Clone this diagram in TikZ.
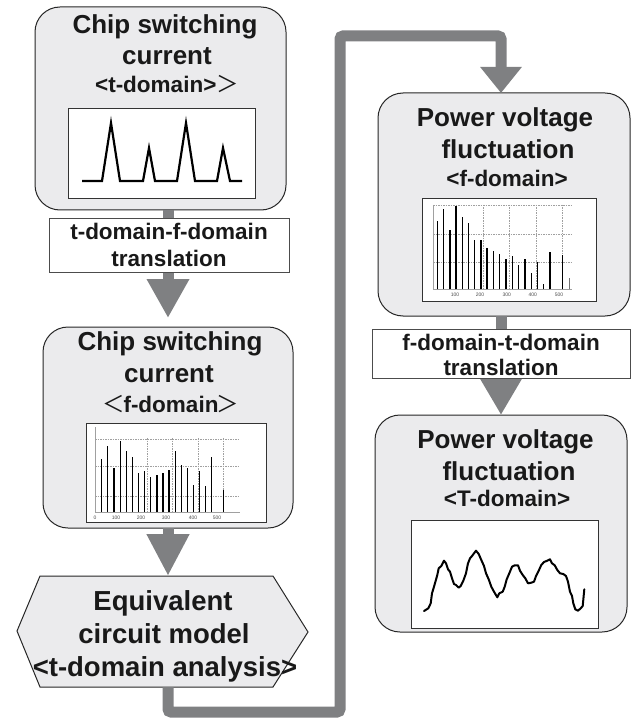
\documentclass[tikz,border=0pt]{standalone}
\usepackage{fontspec}
\setmainfont{Liberation Sans}
\newfontfamily\cjkfont{Noto Sans CJK JP}
\usetikzlibrary{arrows.meta}

\definecolor{boxfill}{HTML}{EBEBED}
\definecolor{flowgray}{HTML}{7F8082}
\definecolor{gridgray}{HTML}{A0A0A0}

\tikzset{
  panel/.style={draw=black!85, line width=1pt, fill=boxfill, rounded corners=25pt, inner sep=0pt, outer sep=0pt},
  note/.style={draw=black!70, line width=1pt, fill=white, inner sep=0pt, outer sep=0pt},
  plotframe/.style={draw=black!80, line width=1pt, fill=white, inner sep=0pt, outer sep=0pt},
  flow/.style={draw=flowgray, line width=11pt},
  headlen/.style={-{Triangle[width=40pt,length=#1]}},
  titletext/.style={font=\fontsize{26}{30}\selectfont\bfseries, anchor=base, inner sep=0pt, text=black!90},
  tagtext/.style={font=\fontsize{22.5}{26}\selectfont\bfseries, anchor=base, inner sep=0pt, text=black!90},
  notetext/.style={font=\fontsize{22.5}{26}\selectfont\bfseries, anchor=base, inner sep=0pt, text=black!90},
  hextext/.style={font=\fontsize{27.5}{32}\selectfont\bfseries, anchor=base, inner sep=0pt, text=black!90},
  grid line/.style={draw=gridgray, line width=0.4pt, dash pattern=on 1.5pt off 1pt},
  axis line/.style={draw=gridgray, line width=0.5pt},
  bar/.style={draw=black, line width=1.4pt},
  ticklabel/.style={font=\fontsize{5}{6}\selectfont, text=black!70, inner sep=0pt},
  trace/.style={draw=black, line width=2.2pt, line join=round, line cap=round},
}

% thin full-width angle brackets
\newcommand\wlt{{\cjkfont\mdseries ＜}}
\newcommand\wgt{{\cjkfont\mdseries ＞}}

\begin{document}
\begin{tikzpicture}[x=1pt, y=-1pt]
\useasboundingbox (0,0) rectangle (632,719);

% column axes of the flow
\coordinate (colL) at (168,0);
\coordinate (colR) at (501,0);

% ---------- boxes ----------
\node[panel, minimum width=251pt, minimum height=203pt] (b1) at (160.5,108.5) {};
\node[note,  minimum width=240pt, minimum height=53pt]  (l1) at (169,245.5) {};
\node[panel, minimum width=250pt, minimum height=201pt] (b2) at (168,427.5) {};
\node[panel, minimum width=252pt, minimum height=223pt] (b3) at (504,204.5) {};
\node[note,  minimum width=258pt, minimum height=49pt]  (l2) at (501,353.5) {};
\node[panel, minimum width=252pt, minimum height=217pt] (b4) at (501,523.5) {};

% hexagon: equivalent circuit model
\draw[fill=boxfill, draw=black!85, line width=1pt]
  (40,576) -- (273,576) -- (308,632) -- (273,687) -- (40,687) -- (17,631) -- cycle;
\coordinate (eqtop) at (168,576);
\coordinate (eqbot) at (168,687);

% ---------- connectors ----------
\draw[flow] (b1.south -| colL) -- (l1.north -| colL);
\draw[flow, headlen=39pt, shorten >=9pt] (l1.south -| colL) -- (b2.north -| colL);
\draw[flow, headlen=42pt] (b2.south -| colL) -- (eqtop);
\draw[flow, headlen=26pt, rounded corners=3pt]
  (eqbot) -- (168,712) -- (340,712) -- (340,36) -- (501,36) -- (b3.north -| colR);
\draw[flow] (b3.south -| colR) -- (l2.north -| colR);
\draw[flow, headlen=37pt] (l2.south -| colR) -- (b4.north -| colR);

% redraw note boxes above the shafts
\node[note, minimum width=240pt, minimum height=53pt] (l1f) at (l1) {};
\node[note, minimum width=258pt, minimum height=49pt] (l2f) at (l2) {};

% ---------- texts ----------
\node[titletext] (b1a) at (165,34) {Chip switching};
\node[titletext] (b1b) at (167,65) {current};
\node[tagtext]   (b1c) at (167,93) {<t-domain>\wgt};

\node[notetext] (l1a) at (169,240) {t-domain-f-domain};
\node[notetext] (l1b) at (169,266.5) {translation};

\node[titletext] (b2a) at (170,350) {Chip switching};
\node[titletext] (b2b) at (169,382.5) {current};
\node[tagtext]   (b2c) at (171,412) {\wlt\kern-1.5pt f-domain\kern-1.5pt\wgt};

\node[hextext] (eqa) at (163,610) {Equivalent};
\node[hextext] (eqb) at (164,643.5) {circuit model};
\node[hextext] (eqc) at (165,676.5) {<t-domain analysis>};

\node[titletext] (b3a) at (505,126.5) {Power voltage};
\node[titletext] (b3b) at (508,159) {fluctuation};
\node[tagtext]   (b3c) at (507,187) {<f-domain>};

\node[notetext] (l2a) at (501,350) {f-domain-t-domain};
\node[notetext] (l2b) at (501,375) {translation};

\node[titletext] (b4a) at (505.5,448.5) {Power voltage};
\node[titletext] (b4b) at (509,480) {fluctuation};
\node[tagtext]   (b4c) at (507,506) {<T-domain>};

% ---------- plot 1: switching current spikes ----------
\node[plotframe, minimum width=187pt, minimum height=90pt] (p1) at (161.5,154) {};
\draw[trace, line join=miter, line cap=butt]
  (82,181) -- (102,181) -- (111,123) -- (120,181) -- (143,181) -- (149,148) -- (155,181)
  -- (177,181) -- (186,123) -- (195,181) -- (217,181) -- (223,148) -- (230,181) -- (242,181);

% ---------- plot 2: current spectrum ----------
\node[plotframe, minimum width=180pt, minimum height=99pt] (p2) at (176,472.5) {};
\foreach \gx in {147,172,198,223} \draw[grid line] (\gx,438) -- (\gx,512);
\foreach \gy in {439,466,496} \draw[grid line] (95,\gy) -- (240,\gy);
\draw[axis line] (95,427) -- (95,512) -- (240,512);
\foreach \bx/\by in {101.7/459,107.7/446,114/468,120.3/441,126.3/451,132.7/457,
  138.7/473,144.7/471,150.7/477,157/475,163/473,169/470,175.3/451,181.3/465,
  187.3/468,193.3/485,199.3/471,205.7/486,211.7/457,223.7/490}
  \draw[bar] (\bx,512) -- (\bx,\by);
\foreach \lx/\lt [count=\i] in {95/0,116/100,141/200,166/300,193/400,217/500}
  \node[ticklabel] (tka\i) at (\lx,517.5) {\lt};

% ---------- plot 3: voltage spectrum ----------
\node[plotframe, minimum width=174pt, minimum height=102pt] (p3) at (509,250) {};
\foreach \gx in {483.3,509.3,535.7,561.7} \draw[grid line] (\gx,205) -- (\gx,289.3);
\foreach \gy in {205.7,234,261.7} \draw[grid line] (433,\gy) -- (572,\gy);
\draw[axis line] (433,205) -- (433,289.3) -- (572,289.3);
\foreach \bx/\by in {437.3/220.7,443.3/209,450/230,456/205.7,462.3/216.7,468.3/223.3,
  474.7/240,481/240,487/248.3,493.3/250.7,499.7/254,506/259.3,512.3/256.3,518.7/265,
  525/259.3,531.3/272.7,537.3/261.7,543.7/284.3,550/251.7,562.7/255}
  \draw[bar] (\bx,289.3) -- (\bx,\by);
\draw[bar, draw=black!55, line width=1pt] (569,289.3) -- (569,277.7);
\foreach \lx/\lt [count=\i] in {455/100,480/200,506.7/300,532.7/400,559/500}
  \node[ticklabel] (tkb\i) at (\lx,295) {\lt};

% ---------- plot 4: voltage waveform ----------
\node[plotframe, minimum width=187pt, minimum height=108pt] (p4) at (504.5,574) {};
\draw[trace, line width=2pt]
  (424,611) -- (428.3,608.3) -- (430.7,603.3) -- (432,593.3) -- (434,586.7) -- (437.3,575)
  -- (438.7,568.3) -- (441.3,566) -- (444,560.7) -- (446,563.3) -- (448,569.3) -- (450,571.7)
  -- (452,578.3) -- (454,584) -- (456,585) -- (458.7,587.7) -- (460.7,586) -- (463.3,580.7)
  -- (466,573.3) -- (468,563.3) -- (470,558.3) -- (472,556) -- (474,553.3) -- (476,550.7)
  -- (478.7,554) -- (481.3,560) -- (484,566) -- (486,573.3) -- (488.7,579.3) -- (491.3,586.7)
  -- (494,591.7) -- (497.3,597.3) -- (499.3,593.3) -- (502.7,591.7) -- (504.7,586.7)
  -- (506.7,579.3) -- (509.3,573.3) -- (512,566.7) -- (514.7,565.3) -- (518,565.3)
  -- (520,570.7) -- (522.7,575) -- (525.3,578.3) -- (528,583.3) -- (531.3,582.7)
  -- (534,581.7) -- (536,576) -- (538.7,570.7) -- (541.3,565) -- (544,562) -- (547.3,560.7)
  -- (550,559.3) -- (552,563.3) -- (554.7,565.3) -- (557.3,570) -- (560,573.3) -- (563.3,574)
  -- (566,576) -- (568,581.7) -- (570,591.7) -- (572,596) -- (573.3,603.3) -- (575.3,609.3)
  -- (578,610.7) -- (580.7,608.3) -- (582.7,606) -- (584.3,589.3);
\end{tikzpicture}
\end{document}
